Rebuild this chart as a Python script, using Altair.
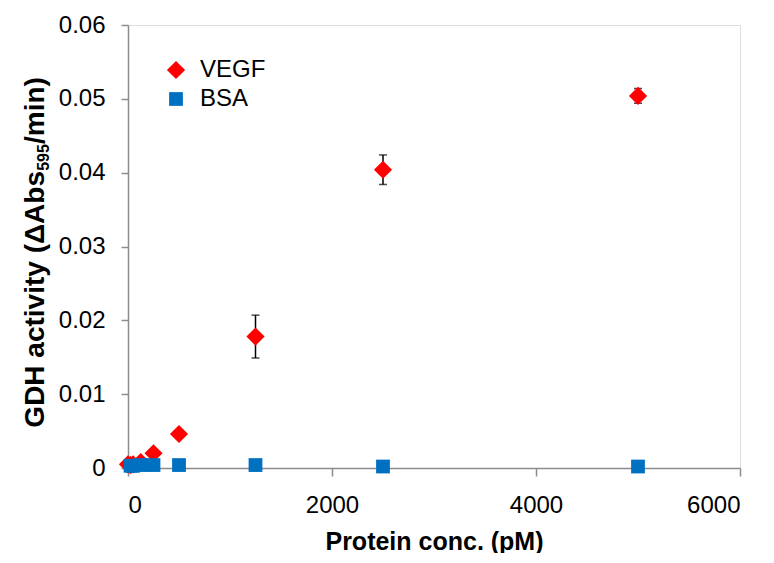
import altair as alt
import pandas as pd

vegf_x = [0, 25, 50, 125, 250, 500, 1250, 2500, 5000]
vegf_y = [0.0005, 0.0004, 0.0005, 0.0008, 0.0020, 0.0046, 0.0178, 0.0404, 0.0504]
vegf_err = [0.0, 0.0, 0.0, 0.0, 0.0, 0.0, 0.0029, 0.0020, 0.0010]

bsa_x = [25, 50, 125, 250, 500, 1250, 2500, 5000]
bsa_y = [0.0003, 0.0003, 0.0004, 0.0004, 0.0004, 0.0004, 0.0002, 0.0002]

series = ["VEGF", "BSA"]
colors = ["#FF0000", "#0070C0"]
shapes = ["diamond", "square"]
sizes = [330, 190]

y_title_parts = ["GDH activity (ΔAbs", "595", "/min)"]

rows = []
for x, y in zip(vegf_x, vegf_y):
    rows.append({"conc": x, "act": y, "series": "VEGF"})
for x, y in zip(bsa_x, bsa_y):
    rows.append({"conc": x, "act": y, "series": "BSA"})
df = pd.DataFrame(rows)

err = pd.DataFrame({
    "conc": vegf_x,
    "lo": [y - e for y, e in zip(vegf_y, vegf_err)],
    "hi": [y + e for y, e in zip(vegf_y, vegf_err)],
    "e": vegf_err,
})
err = err[err["e"] > 0]

FONT = "Liberation Sans"

xs = alt.Scale(domain=[0, 6000], nice=False)
ys = alt.Scale(domain=[0, 0.06], nice=False)

xax = alt.Axis(
    values=[0, 2000, 4000, 6000], grid=False, title="Protein conc. (pM)", format="d",
    labelFontSize=24, labelFont=FONT, labelColor="black",
    titleFontSize=25, titleFont=FONT, titleFontWeight="bold", titleColor="black",
    titlePadding=12, tickSize=8, labelPadding=17,
    domainColor="#8c8c8c", tickColor="#8c8c8c", domainWidth=1.5, tickWidth=1.5,
)
yax = alt.Axis(
    values=[0, 0.01, 0.02, 0.03, 0.04, 0.05, 0.06], grid=False,
    title=None,
    labelExpr="datum.value == 0 ? '0' : format(datum.value, '.2f')",
    labelFontSize=24, labelFont=FONT, labelColor="black",
    tickSize=7, labelPadding=16,
    domainColor="#8c8c8c", tickColor="#8c8c8c", domainWidth=1.5, tickWidth=1.5,
)

base_err = alt.Chart(err)
rules = base_err.mark_rule(color="black", strokeWidth=1.5).encode(
    x=alt.X("conc:Q", scale=xs, axis=xax),
    y=alt.Y("lo:Q", scale=ys, axis=yax),
    y2="hi:Q",
)
cap_hi = base_err.mark_tick(color="black", thickness=1.5, size=8, orient="horizontal").encode(
    x=alt.X("conc:Q", scale=xs), y=alt.Y("hi:Q", scale=ys)
)
cap_lo = base_err.mark_tick(color="black", thickness=1.5, size=8, orient="horizontal").encode(
    x=alt.X("conc:Q", scale=xs), y=alt.Y("lo:Q", scale=ys)
)

points = alt.Chart(df).mark_point(filled=True, opacity=1).encode(
    x=alt.X("conc:Q", scale=xs),
    y=alt.Y("act:Q", scale=ys),
    color=alt.Color("series:N", scale=alt.Scale(domain=series, range=colors),
                    legend=alt.Legend(title=None, orient="none", legendX=36, legendY=33,
                                      labelFontSize=24, labelFont=FONT, labelColor="black",
                                      symbolSize=230, rowPadding=5, padding=0,
                                      labelOffset=12)),
    shape=alt.Shape("series:N", scale=alt.Scale(domain=series, range=shapes)),
    size=alt.Size("series:N", scale=alt.Scale(domain=series, range=sizes), legend=None),
)

# Y-axis title with a real subscript, built from three rotated text pieces
t_main = alt.Chart(pd.DataFrame({"t": [y_title_parts[0]]})).mark_text(
    angle=270, align="right", baseline="alphabetic", font=FONT, fontSize=28,
    fontWeight="bold", color="black"
).encode(text="t:N", x=alt.value(-84), y=alt.value(146))
t_sub = alt.Chart(pd.DataFrame({"t": [y_title_parts[1]]})).mark_text(
    angle=270, align="center", baseline="alphabetic", font=FONT, fontSize=16,
    fontWeight="bold", color="black"
).encode(text="t:N", x=alt.value(-79), y=alt.value(132.5))
t_end = alt.Chart(pd.DataFrame({"t": [y_title_parts[2]]})).mark_text(
    angle=270, align="left", baseline="alphabetic", font=FONT, fontSize=28,
    fontWeight="bold", color="black"
).encode(text="t:N", x=alt.value(-84), y=alt.value(119))

chart = alt.layer(rules, cap_hi, cap_lo, points, t_main, t_sub, t_end).properties(
    width=612, height=443,
    autosize=alt.AutoSizeParams(type="none"),
    padding={"left": 120, "top": 17, "right": 26, "bottom": 85},
).configure_view(stroke=None).configure(background="white")

chart.save("out.html", embed_options={"renderer": "svg", "actions": False})
